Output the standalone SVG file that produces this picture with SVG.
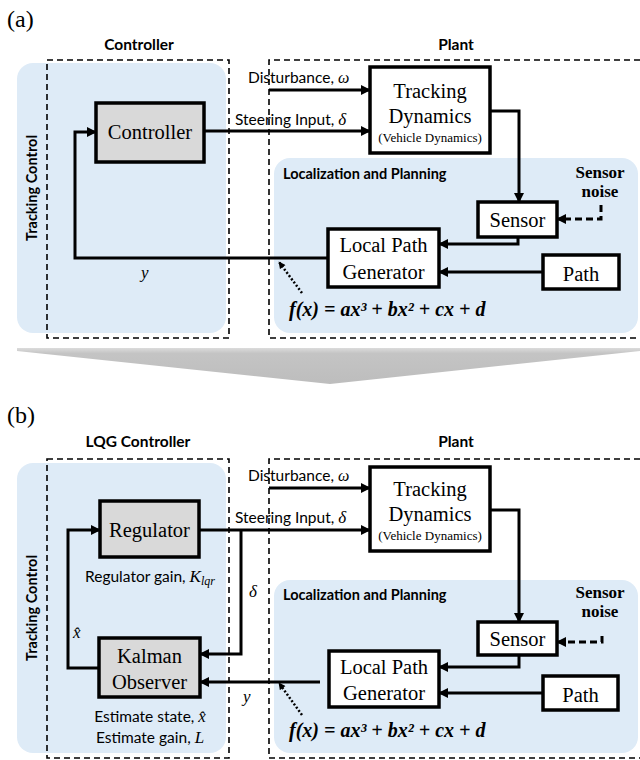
<svg xmlns="http://www.w3.org/2000/svg" width="640" height="760" viewBox="0 0 640 760">
<defs>
<marker id="ah" viewBox="0 0 10 10" refX="9" refY="5" markerWidth="11" markerHeight="10" markerUnits="userSpaceOnUse" orient="auto"><path d="M0,0 L10,5 L0,10 z" fill="#000"/></marker>
<marker id="ahs" viewBox="0 0 10 10" refX="9" refY="5" markerWidth="8" markerHeight="7" markerUnits="userSpaceOnUse" orient="auto"><path d="M0,0 L10,5 L0,10 z" fill="#000"/></marker>
<linearGradient id="gbig" x1="0" y1="0" x2="0" y2="1"><stop offset="0" stop-color="#dcdcdc"/><stop offset="0.15" stop-color="#c4c4c4"/><stop offset="1" stop-color="#bdbdbd"/></linearGradient>
</defs>
<style>
.bg{fill:#deebf7;stroke:none}
.dash{fill:none;stroke:#000;stroke-width:1.6;stroke-dasharray:6,4}
.box{fill:#fff;stroke:#000;stroke-width:3.5}
.gbox{fill:#d9d9d9;stroke:#000;stroke-width:3.5}
.ln{fill:none;stroke:#000;stroke-width:3}
.arr{marker-end:url(#ah)}
.noise{fill:none;stroke:#000;stroke-width:3;stroke-dasharray:7,4;marker-end:url(#ah)}
.dot{fill:none;stroke:#000;stroke-width:2.5;stroke-dasharray:2,2;marker-end:url(#ahs)}
.panel{font-family:"Liberation Serif",serif;font-size:24px}
.title{font-family:Lato,"Open Sans","Liberation Sans",sans-serif;font-weight:bold;font-size:15.5px;text-anchor:middle}
.vtitle{font-family:Lato,"Open Sans","Liberation Sans",sans-serif;font-weight:bold;font-size:14.5px;text-anchor:middle}
.node{font-family:"Liberation Serif",serif;font-size:20.5px;text-anchor:middle}
.small{font-family:"Liberation Serif",serif;font-size:13px;text-anchor:middle}
.lbl{font-family:Lato,"Open Sans","Liberation Sans",sans-serif;font-size:15.5px}
.loc{font-family:Lato,"Open Sans","Liberation Sans",sans-serif;font-size:14.5px;font-weight:bold}
.mi{font-family:"Liberation Serif",serif;font-style:italic}
.noiset{font-family:"Liberation Serif",serif;font-weight:bold;font-size:17px;text-anchor:middle}
.formula{font-family:"Liberation Serif",serif;font-weight:bold;font-style:italic;font-size:20px}
</style>

<!-- ============ Panel (a) ============ -->
<g id="panel-a-background">
<text class="panel" x="7" y="27">(a)</text>
<rect class="bg" x="17" y="63" width="209" height="270" rx="16"/>
<rect class="bg" x="274" y="158" width="364" height="175" rx="16"/>
<rect class="dash" x="47" y="60" width="182" height="278"/>
<path class="dash" d="M640,60 H269 V338 H640"/>
<text class="title" x="139" y="50">Controller</text>
<text class="title" x="456" y="50">Plant</text>
<text class="vtitle" transform="translate(37,188) rotate(-90)">Tracking Control</text>
<text class="loc" x="283" y="179">Localization and Planning</text>
<text class="noiset" x="600" y="178">Sensor</text>
<text class="noiset" x="600" y="197">noise</text>
</g>

<g id="a-controller"><rect class="gbox" x="96" y="103" width="108" height="59"/><text class="node" x="150" y="139">Controller</text></g>
<g id="a-tracking-dynamics"><rect class="box" x="370" y="67" width="120" height="86"/><text class="node" x="430" y="98">Tracking</text><text class="node" x="430" y="123">Dynamics</text><text class="small" x="430" y="142">(Vehicle  Dynamics)</text></g>
<g id="a-sensor"><rect class="box" x="478" y="202" width="79" height="35"/><text class="node" x="517.5" y="227" font-size="19.5">Sensor</text></g>
<g id="a-local-path-generator"><rect class="box" x="328" y="229" width="111" height="58"/><text class="node" x="383.5" y="252">Local Path</text><text class="node" x="383.5" y="279">Generator</text></g>
<g id="a-path"><rect class="box" x="543" y="255" width="76" height="34"/><text class="node" x="581" y="281">Path</text></g>

<g id="a-connectors">
<path class="ln arr" d="M328,258 H75 V132 H96"/>
<path class="ln arr" d="M204,131 H370"/>
<path class="ln arr" d="M269,90 H370"/>
<path class="ln arr" d="M490,111 H519 V202"/>
<path class="ln arr" d="M518,237 V244 H439"/>
<path class="ln arr" d="M543,272 H439"/>
<path class="noise" d="M601,205 V219 H557"/>
<path class="dot" d="M302,293 L279,262"/>
<text class="lbl" x="248" y="83">Disturbance, <tspan class="mi" font-size="16">ω</tspan></text>
<text class="lbl" x="235" y="125">Steering Input, <tspan class="mi" font-size="17">δ</tspan></text>
<text class="mi" x="141" y="278" font-size="17">y</text>
<text class="formula" x="289" y="316">f(x) = ax³ + bx² + cx + d</text>
</g>

<!-- transition arrow -->
<g id="transition-arrow"><polygon points="17,348 640,348 640,351 330,384 17,351" fill="url(#gbig)"/></g>

<!-- ============ Panel (b) ============ -->
<g id="panel-b-background">
<text class="panel" x="7" y="423">(b)</text>
<rect class="bg" x="17" y="463" width="209" height="290" rx="16"/>
<rect class="bg" x="274" y="580" width="364" height="173" rx="16"/>
<rect class="dash" x="47" y="459" width="182" height="299"/>
<path class="dash" d="M640,459 H269 V758 H640"/>
<text class="title" x="138" y="447">LQG Controller</text>
<text class="title" x="456" y="447">Plant</text>
<text class="vtitle" transform="translate(37,608) rotate(-90)">Tracking Control</text>
<text class="loc" x="283" y="600">Localization and Planning</text>
<text class="noiset" x="600" y="598">Sensor</text>
<text class="noiset" x="600" y="617">noise</text>
</g>

<g id="b-regulator"><rect class="gbox" x="100" y="501" width="99" height="56"/><text class="node" x="149.5" y="537">Regulator</text>
<text class="lbl" x="150" y="582" text-anchor="middle">Regulator gain, <tspan class="mi" font-size="17">K</tspan><tspan class="mi" font-size="12" dy="3">lqr</tspan></text></g>
<g id="b-kalman-observer"><rect class="gbox" x="99" y="638" width="101" height="59"/><text class="node" x="149.5" y="663">Kalman</text><text class="node" x="149.5" y="689">Observer</text>
<text class="lbl" x="150" y="722" text-anchor="middle">Estimate state, <tspan class="mi" font-size="17">x̂</tspan></text>
<text class="lbl" x="150" y="743" text-anchor="middle">Estimate gain, <tspan class="mi" font-size="17">L</tspan></text></g>
<g id="b-tracking-dynamics"><rect class="box" x="370" y="467" width="120" height="84"/><text class="node" x="430" y="496">Tracking</text><text class="node" x="430" y="521">Dynamics</text><text class="small" x="430" y="540">(Vehicle  Dynamics)</text></g>
<g id="b-sensor"><rect class="box" x="478" y="622" width="79" height="33"/><text class="node" x="517.5" y="646" font-size="19.5">Sensor</text></g>
<g id="b-local-path-generator"><rect class="box" x="329" y="651" width="110" height="56"/><text class="node" x="384" y="674">Local Path</text><text class="node" x="384" y="700">Generator</text></g>
<g id="b-path"><rect class="box" x="543" y="676" width="75" height="34"/><text class="node" x="580.5" y="702">Path</text></g>

<g id="b-connectors">
<path class="ln arr" d="M269,488 H370"/>
<path class="ln arr" d="M199,530 H370"/>
<path class="ln arr" d="M241,530 V654 H200"/>
<path class="ln arr" d="M99,668 H68 V530 H100"/>
<path class="ln arr" d="M320,682 H200"/>
<path class="ln arr" d="M490,510 H519 V622"/>
<path class="ln arr" d="M519,655 V667 H439"/>
<path class="ln arr" d="M543,693 H439"/>
<path class="noise" d="M602,636 V642 H557"/>
<path class="dot" d="M302,715 L279,683"/>
<text class="lbl" x="248" y="481">Disturbance, <tspan class="mi" font-size="16">ω</tspan></text>
<text class="lbl" x="235" y="523">Steering Input, <tspan class="mi" font-size="17">δ</tspan></text>
<text class="mi" x="249" y="597" font-size="17">δ</text>
<text class="mi" x="243" y="702" font-size="17">y</text>
<text class="mi" x="73" y="638" font-size="17">x̂</text>
<text class="formula" x="289" y="737">f(x) = ax³ + bx² + cx + d</text>
</g>
</svg>
